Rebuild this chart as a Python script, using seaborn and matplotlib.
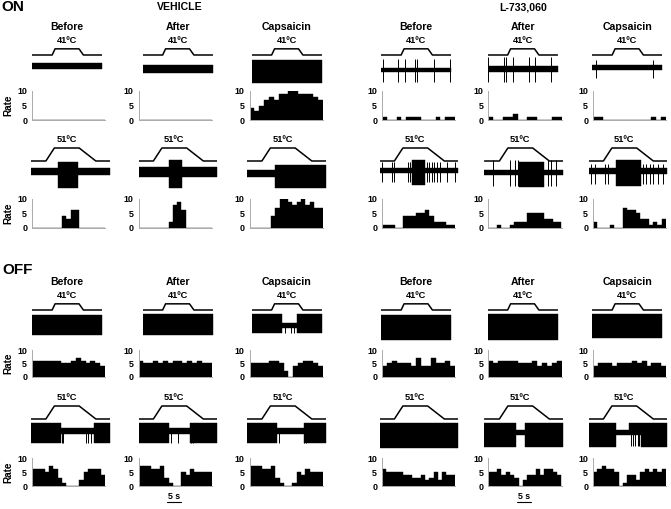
import matplotlib
matplotlib.use("Agg")
import matplotlib.pyplot as plt
import numpy as np
import pandas as pd
import seaborn as sns

# ---------------------------------------------------------------- data
groups = ["VEHICLE", "L-733,060"]
conditions = ["Before", "After", "Capsaicin"]
cell_types = ["ON", "OFF"]

# heat ramps applied to the receptive field (s, degC)
temp41_t = [0, 6.9, 7.9, 16.1, 17.6, 24.0]
temp41_v = [32, 32, 41, 41, 32, 32]
temp51_t = [0, 5.1, 8.0, 16.5, 22.2, 27.0]
temp51_v = [32, 32, 51, 51, 32, 32]

hist41_span = 24.0
hist51_span = 27.0
scale_bar_s = 5

# firing rate per bin (spikes/s); panel order: vehicle before/after/capsaicin,
# L-733,060 before/after/capsaicin
on41_rate = [
    [0, 0, 0, 0, 0, 0, 0, 0, 0, 0, 0, 0, 0, 0, 0],
    [0, 0, 0, 0, 0, 0, 0, 0, 0, 0, 0, 0, 0, 0, 0],
    [4, 3, 5, 7, 8, 7, 9, 9, 10, 10, 9, 9, 9, 8, 7],
    [1, 0, 0, 1, 0, 1, 1, 1, 0, 0, 0, 1, 0, 1, 1],
    [1, 0, 0, 1, 1, 2, 0, 0, 1, 1, 0, 0, 0, 1, 1],
    [1, 1, 0, 0, 0, 0, 0, 0, 0, 0, 0, 0, 1, 0, 1],
]
on51_rate = [
    [0, 0, 0, 0, 0, 0, 0, 4, 3, 6, 6, 0, 0, 0, 0, 0, 0],
    [0, 0, 0, 0, 0, 0, 0, 2, 8, 9, 6, 0, 0, 0, 0, 0, 0],
    [0, 0, 0, 0, 0, 4, 7, 10, 10, 9, 8, 9, 10, 8, 9, 7, 7],
    [1, 1, 1, 0, 0, 4, 4, 4, 5, 5, 6, 4, 2, 2, 2, 1, 1],
    [0, 0, 1, 0, 0, 1, 2, 2, 2, 5, 5, 5, 5, 3, 3, 2, 2],
    [2, 0, 0, 0, 1, 0, 0, 7, 6, 6, 5, 3, 3, 1, 2, 1, 3],
]
off41_rate = [
    [6, 6, 6, 6, 6, 6, 5, 5, 6, 7, 6, 5, 6, 5, 4],
    [6, 5, 5, 6, 5, 6, 5, 6, 6, 5, 6, 5, 6, 5, 5],
    [5, 5, 5, 5, 6, 6, 5, 2, 0, 4, 5, 6, 6, 5, 4],
    [4, 5, 6, 5, 5, 5, 4, 7, 4, 4, 7, 5, 5, 6, 4],
    [6, 5, 6, 6, 6, 6, 5, 5, 5, 6, 4, 5, 4, 5, 6],
    [4, 5, 5, 5, 4, 5, 5, 5, 6, 5, 6, 4, 5, 5, 4],
]
off51_rate = [
    [6, 6, 6, 5, 7, 6, 3, 1, 0, 0, 0, 2, 5, 6, 6, 6, 4],
    [7, 7, 7, 6, 6, 7, 3, 1, 0, 0, 5, 4, 6, 5, 5, 5, 5],
    [7, 7, 7, 6, 6, 7, 3, 1, 0, 0, 1, 5, 4, 6, 5, 5, 5],
    [6, 5, 5, 5, 5, 4, 4, 3, 3, 4, 2, 3, 5, 2, 5, 4, 4],
    [5, 5, 6, 4, 5, 4, 3, 0, 2, 4, 4, 6, 4, 6, 6, 5, 4],
    [5, 6, 7, 6, 6, 5, 0, 1, 4, 4, 2, 5, 6, 5, 6, 5, 6],
]

# extracellular recordings: envelope of the trace between segment times (s),
# upper / lower excursion (uV) and isolated spikes
on41_seg_t = [[0, 24], [0, 24], [0, 24], [0, 24], [0, 24], [0, 24]]
on41_seg_hi = [[4.7], [3], [8], [0.3], [2], [3]]
on41_seg_lo = [[-1.3], [-5.3], [-15.3], [-3.7], [-3.7], [-2]]
on41_spk_t = [[], [], [],
              [0.6, 5.7, 8.2, 11.6, 12.3, 18.3, 23.7],
              [0.3, 5.7, 6.4, 8.6, 14.2, 16.1, 21.8],
              [1.5, 20.9]]
on41_spk_hi = [0, 0, 0, 8.7, 11.3, 8]
on41_spk_lo = [0, 0, 0, -13.7, -13.7, -10.3]

on51_seg_t = [[0, 9.1, 16.0, 27], [0, 10.3, 14.9, 27], [0, 9.7, 27],
              [0, 11.1, 15.7, 27], [0, 11.9, 20.5, 27], [0, 9.5, 18.0, 27]]
on51_seg_hi = [[4, 10, 4], [5, 12, 5], [2, 7], [4, 12, 4], [2, 10, 2], [4, 12, 4]]
on51_seg_lo = [[-3, -16, -3], [-5, -16, -5], [-5, -16], [-0.5, -13, -0.5],
               [-3, -15, -3], [-2, -14, -2]]
on51_spk_t = [[], [], [],
              [0.8, 4.2, 4.8, 9.9, 10.5, 16.2, 17.1, 17.9, 18.8, 19.7, 20.8, 23.1, 25.9],
              [3.0, 8.6, 10.3, 11.4, 21.7, 22.8, 24.6],
              [0.9, 2.1, 5.5, 6.6, 18.6, 19.8, 20.9, 22.1, 23.8, 25.5]]
on51_spk_hi = [0, 0, 0, 10, 12, 8]
on51_spk_lo = [0, 0, 0, -10, -14, -12]

off41_seg_t = [[0, 24], [0, 24], [0, 10.5, 15.6, 24], [0, 24], [0, 24], [0, 24]]
off41_seg_hi = [[10], [11], [11, 2, 11], [10], [11], [11]]
off41_seg_lo = [[-10], [-10], [-8, -3, -8], [-15], [-15], [-13]]
off41_spk_t = [[], [], [11.6, 13.4, 14.5], [], [], []]
off41_spk_hi = [0, 0, 2, 0, 0, 0]
off41_spk_lo = [0, 0, -8, 0, 0, 0]

off51_seg_t = [[0, 10.3, 21.5, 27], [0, 10.3, 17.7, 27], [0, 10.3, 19.4, 27],
               [0, 27], [0, 10.8, 13.7, 27], [0, 9.4, 13.9, 17.9, 27]]
off51_seg_hi = [[10.7, 6, 10.7], [11.3, 6, 11.3], [10.7, 6, 10.7], [10.7],
                [11.3, 4, 11.3], [10.7, 4, 10.7, 10.7]]
off51_seg_lo = [[-9.3, 0, -9.3], [-9.3, 0, -9.3], [-9.3, 0, -9.3], [-14.3],
                [-12.7, -1, -12.7], [-12.7, -1, -1, -12.7]]
off51_spk_t = [[10.5, 11.0, 18.8, 19.6, 20.5], [11.0, 13.4, 17.9, 18.5],
               [10.8, 19.6, 20.2], [], [], [14.5, 15.2, 16.0, 16.8, 17.4]]
off51_spk_hi = [6, 6, 6, 0, 0, 4]
off51_spk_lo = [-9, -9, -9, 0, 0, -12]

# ---------------------------------------------------------------- layout (pixels)
W, H = 671, 509
PX_PER_S = 2.92
DEG_PX = 13 / 19
HIST_W = 73
hist_left = [32, 138.5, 249.5, 382, 488.5, 593]
trace41_dx = [0, 4, 2, -1, -1, -1]
trace51_dx = [-1, 0, -2.5, -2.5, -4, -4.5]

rows = [
    # temp, baseline y, trace centre y, hist top y, hist bottom y
    dict(temp=41, base=55, mid=68, top=91, bot=120,
         rate=on41_rate, seg_t=on41_seg_t, hi=on41_seg_hi, lo=on41_seg_lo,
         spk=on41_spk_t, shi=on41_spk_hi, slo=on41_spk_lo),
    dict(temp=51, base=161, mid=172, top=199, bot=227.5,
         rate=on51_rate, seg_t=on51_seg_t, hi=on51_seg_hi, lo=on51_seg_lo,
         spk=on51_spk_t, shi=on51_spk_hi, slo=on51_spk_lo),
    dict(temp=41, base=310, mid=325, top=350, bot=376.5,
         rate=off41_rate, seg_t=off41_seg_t, hi=off41_seg_hi, lo=off41_seg_lo,
         spk=off41_spk_t, shi=off41_spk_hi, slo=off41_spk_lo),
    dict(temp=51, base=419, mid=434, top=458, bot=486,
         rate=off51_rate, seg_t=off51_seg_t, hi=off51_seg_hi, lo=off51_seg_lo,
         spk=off51_spk_t, shi=off51_spk_hi, slo=off51_spk_lo),
]


def rect(x0, x1, ytop, ybot):
    return [x0 / W, 1 - ybot / H, (x1 - x0) / W, (ybot - ytop) / H]


sns.set_theme(style="white")
plt.rcParams["font.family"] = ["Liberation Sans", "DejaVu Sans"]
plt.rcParams["font.weight"] = "bold"
for key in ("text.color", "axes.labelcolor", "xtick.color", "ytick.color"):
    plt.rcParams[key] = "black"

fig = plt.figure(figsize=(W / 100, H / 100), dpi=100)

for r, row in enumerate(rows):
    if row["temp"] == 41:
        temp_t, temp_v, span, dx = temp41_t, temp41_v, hist41_span, trace41_dx
    else:
        temp_t, temp_v, span, dx = temp51_t, temp51_v, hist51_span, trace51_dx
    sweep = temp_t[-1]
    plateau = np.mean([t for t, v in zip(temp_t, temp_v) if v == max(temp_v)])

    for c in range(6):
        x0 = hist_left[c] + dx[c]
        x1 = x0 + sweep * PX_PER_S

        # temperature ramp
        tax = fig.add_axes(rect(x0, x1, row["base"] - 21 * DEG_PX, row["base"] + 2 * DEG_PX))
        sns.lineplot(x=temp_t, y=temp_v, ax=tax, color="black", lw=1.1,
                     sort=False, estimator=None)
        tax.set_xlim(0, sweep)
        tax.set_ylim(30, 53)
        tax.axis("off")
        tax.annotate(f"{row['temp']}ºC", xy=(plateau, max(temp_v)), xytext=(0, 6.3),
                     textcoords="offset points", ha="center", va="center",
                     fontsize=6.7, fontweight="bold", annotation_clip=False)
        if row["temp"] == 41:
            tax.annotate(conditions[c % 3], xy=(plateau, max(temp_v)), xytext=(0, 16),
                         textcoords="offset points", ha="center", va="center",
                         fontsize=7.6, fontweight="bold", annotation_clip=False)

        # recording
        nax = fig.add_axes(rect(x0, x1, row["mid"] - 20, row["mid"] + 20))
        seg_t = row["seg_t"][c]
        hi = row["hi"][c] + [row["hi"][c][-1]]
        lo = row["lo"][c] + [row["lo"][c][-1]]
        nax.fill_between(seg_t, hi, lo, step="post", color="black", lw=0.3)
        if row["spk"][c]:
            nax.vlines(row["spk"][c], row["slo"][c], row["shi"][c], color="black", lw=0.7)
        nax.set_xlim(0, sweep)
        nax.set_ylim(-20, 20)
        nax.axis("off")

        # rate histogram
        hax = fig.add_axes(rect(hist_left[c], hist_left[c] + HIST_W, row["top"], row["bot"]))
        rates = row["rate"][c]
        step = span / len(rates)
        bins_df = pd.DataFrame({"t": np.arange(len(rates)) * step + step / 2,
                                "rate": rates})
        sns.histplot(data=bins_df, x="t", weights="rate", bins=len(rates),
                     binrange=(0, span), ax=hax, color="black", alpha=1,
                     edgecolor="black", linewidth=0.3, stat="count")
        hax.set_xlim(0, span)
        hax.set_ylim(0, 10)
        hax.set_yticks([0, 5, 10])
        hax.set_yticklabels(["0", "5", "10"], fontsize=6.4, fontweight="bold")
        hax.set_xticks(np.arange(0, span + 0.01, 1.0))
        hax.set_xticklabels([])
        hax.tick_params(axis="y", length=0, pad=3.5)
        hax.tick_params(axis="x", length=1.3, width=0.4, color="#aaaaaa", direction="out", pad=0)
        hax.set_xlabel("")
        hax.set_ylabel("Rate" if c == 0 else "", fontsize=7.2, fontweight="bold", labelpad=3)
        for side in ("top", "right"):
            hax.spines[side].set_visible(False)
        for side in ("left", "bottom"):
            hax.spines[side].set_color("#aaaaaa")
            hax.spines[side].set_linewidth(0.7)
        hax.patch.set_alpha(0)

# time calibration under the "After" columns
for c in (1, 4):
    x0 = hist_left[c] + 28
    sax = fig.add_axes(rect(x0, x0 + 8 * PX_PER_S, 495, 509))
    sax.plot([0, scale_bar_s], [0, 0], color="black", lw=0.8)
    sax.text(scale_bar_s / 2, 0.2, f"{scale_bar_s} s", ha="center", va="bottom",
             fontsize=6.3, fontweight="bold")
    sax.set_xlim(0, 8)
    sax.set_ylim(-1, 1)
    sax.axis("off")

# section and group titles
fig.text(1 / W, 1 - 7 / H, cell_types[0], fontsize=11, fontweight="bold", va="center")
fig.text(2 / W, 1 - 269.5 / H, cell_types[1], fontsize=11, fontweight="bold", va="center")
fig.text(180 / W, 1 - 7 / H, groups[0], fontsize=7.6, fontweight="bold", ha="center", va="center")
fig.text(523 / W, 1 - 7.5 / H, groups[1], fontsize=7.6, fontweight="bold", ha="center", va="center")

fig.savefig("out.png", dpi=100)
